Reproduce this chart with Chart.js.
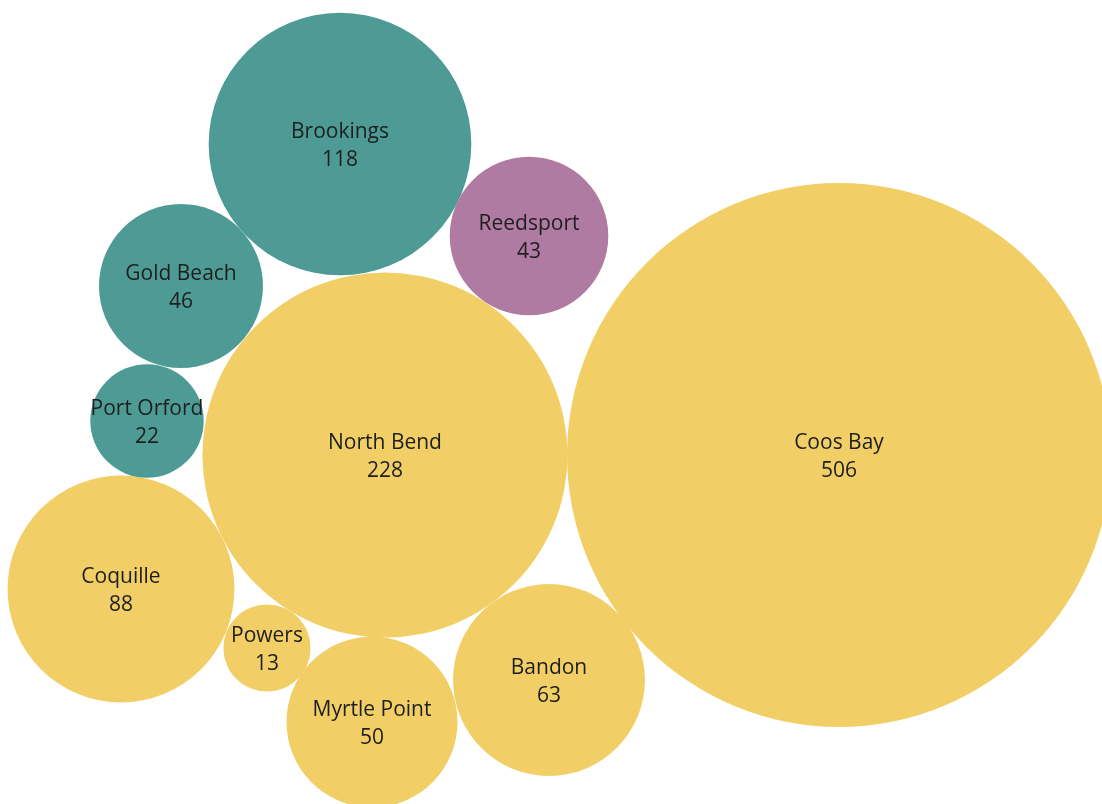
<!DOCTYPE html>
<html>
<head>
<meta charset="utf-8">
<script src="https://cdn.jsdelivr.net/npm/chart.js@4"></script>
<style>
  html, body { margin: 0; padding: 0; background: #ffffff; overflow: hidden; }
  #wrap { width: 1102px; height: 804px; }
</style>
</head>
<body>
<div id="wrap"><canvas id="c" width="1102" height="804"></canvas></div>
<script>
// ---- data ----
const towns   = ['Coos Bay', 'North Bend', 'Brookings', 'Coquille', 'Bandon', 'Myrtle Point', 'Gold Beach', 'Reedsport', 'Port Orford', 'Powers'];
const counts  = [506, 228, 118, 88, 63, 50, 46, 43, 22, 13];
const county  = ['Coos', 'Coos', 'Curry', 'Coos', 'Coos', 'Coos', 'Curry', 'Douglas', 'Curry', 'Coos'];
// packed-bubble layout (axis units of a 1102 x 804 plane)
const layoutX = [839, 385, 340, 121, 549, 372, 181, 529, 147, 267];
const layoutY = [455, 455, 144, 589, 680, 722, 286, 236, 421, 648];

const countyColors = { Coos: '#F1CF66', Curry: '#4E9B96', Douglas: '#B07BA2' };
const radiusScale = 12.09; // px per sqrt(count)

const points = towns.map((t, i) => ({ x: layoutX[i], y: layoutY[i], r: radiusScale * Math.sqrt(counts[i]) }));

const labelPlugin = {
  id: 'bubbleLabels',
  afterDatasetsDraw(chart) {
    const ctx = chart.ctx;
    const meta = chart.getDatasetMeta(0);
    ctx.save();
    ctx.fillStyle = '#1e1e1e';
    ctx.textAlign = 'center';
    ctx.textBaseline = 'middle';
    ctx.font = '21px "Open Sans", sans-serif';
    meta.data.forEach((el, i) => {
      ctx.fillText(towns[i], el.x, el.y - 12);
      ctx.fillText(String(counts[i]), el.x, el.y + 16);
    });
    ctx.restore();
  }
};

new Chart(document.getElementById('c'), {
  type: 'bubble',
  data: {
    datasets: [{
      data: points,
      backgroundColor: county.map(c => countyColors[c]),
      borderWidth: 0,
      hoverBorderWidth: 0,
      clip: false
    }]
  },
  options: {
    responsive: false,
    animation: false,
    events: [],
    layout: { padding: 0, autoPadding: false },
    plugins: { legend: { display: false }, tooltip: { enabled: false } },
    scales: {
      x: { type: 'linear', min: 0, max: 1102, display: false },
      y: { type: 'linear', min: 0, max: 804, reverse: true, display: false }
    }
  },
  plugins: [labelPlugin]
});
</script>
</body>
</html>
